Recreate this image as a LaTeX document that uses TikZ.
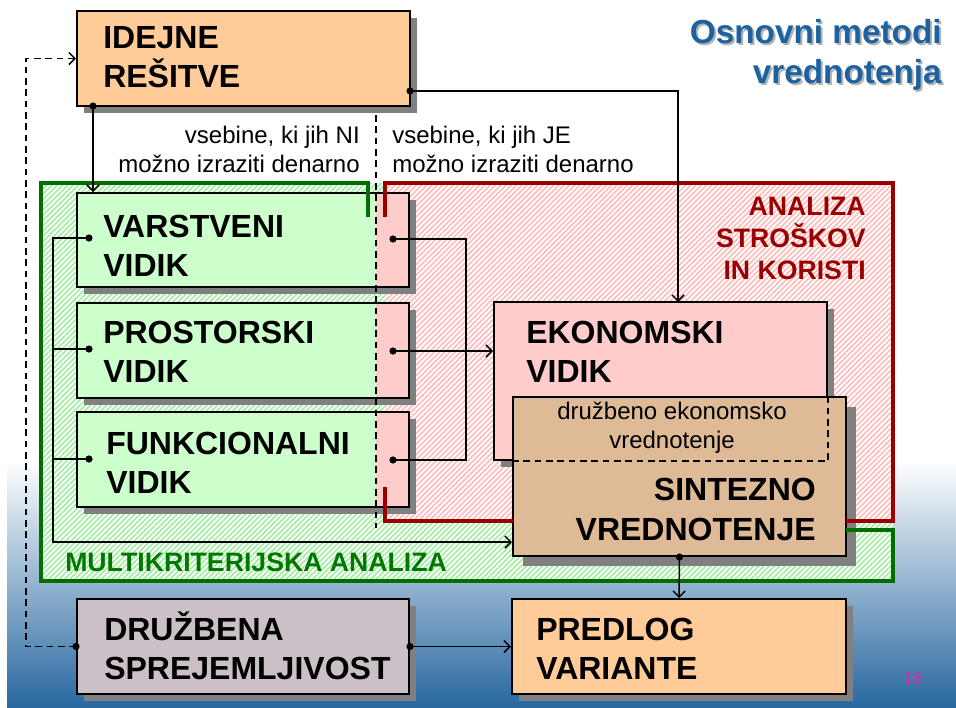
\documentclass[tikz,border=0pt]{standalone}
\usepackage{fontspec}
\setmainfont{Liberation Sans}
\usetikzlibrary{arrows.meta,patterns.meta,shadows,calc,fit}
\definecolor{peach}{RGB}{255,204,153}
\definecolor{vgreen}{RGB}{204,255,204}
\definecolor{vpink}{RGB}{255,204,204}
\definecolor{tanbox}{RGB}{222,186,150}
\definecolor{mauve}{RGB}{204,192,200}
\definecolor{shgray}{RGB}{128,128,128}
\definecolor{hgreen}{RGB}{160,238,160}
\definecolor{hpink}{RGB}{255,186,186}
\definecolor{dgreen}{RGB}{0,110,0}
\definecolor{lgreen}{RGB}{0,120,0}
\definecolor{dred}{RGB}{153,0,0}
\definecolor{titleblue}{RGB}{28,98,160}
\definecolor{bgmid}{RGB}{190,200,215}
\definecolor{bgblue}{RGB}{40,104,160}
\definecolor{pnum}{RGB}{204,51,153}
\begin{document}
\begin{tikzpicture}[x=0.75pt,y=-0.75pt,
  box/.style={draw=black, line width=1.5pt, rectangle, inner sep=0pt,
    general shadow={fill=shgray, shadow xshift=5.25pt, shadow yshift=-5.25pt}},
  bigshadowbox/.style={draw=black, line width=1.5pt, rectangle, inner sep=0pt,
    general shadow={fill=shgray, shadow xshift=7.5pt, shadow yshift=-7.5pt}},
  vidikbox/.style={box, fill=vgreen,
    path picture={\fill[vpink] ([xshift=-24.75pt]path picture bounding box.north east) rectangle (path picture bounding box.south east);}},
  boxtext/.style={font=\fontsize{24}{29.25}\selectfont\bfseries, align=left, inner sep=0pt, anchor=base west},
  smalltext/.style={font=\fontsize{18}{21.75}\selectfont, inner sep=0pt},
  conn/.style={line width=1.1pt, black},
  dconn/.style={conn, dash pattern=on 5pt off 3.5pt},
  arr/.tip={Straight Barb[length=4.5pt,width=9pt]},
  hatch/.style={pattern={Lines[angle=45,distance=2.8pt,line width=1.2pt]}},
  gborder/.style={draw=dgreen, line width=2.4pt},
  rborder/.style={draw=dred, line width=2.4pt},
  dotc/.style={fill=black}
]
\useasboundingbox (0,0) rectangle (956,707);
% background
\fill[white] (0,0) rectangle (956,707);
\shade[top color=white, middle color=bgmid, bottom color=bgblue] (7,460) rectangle (956,707);

% hatched regions
\fill[white] (41,183) rectangle (893,581);
\fill[hatch, pattern color=hgreen] (41,183) rectangle (893,581);
\fill[white] (385,183) rectangle (893,521);
\fill[hatch, pattern color=hpink] (385,183) rectangle (893,521);

% boxes
\node[box, fill=peach, fit={(77,11) (410,106)}] (ide) {};
\node[vidikbox, fit={(77,193) (409,287)}] (vars) {};
\node[vidikbox, fit={(77,303) (409,398)}] (pros) {};
\node[vidikbox, fit={(77,412) (409,507)}] (funk) {};
\node[box, fill=vpink, fit={(494,302) (827,460)}] (ekon) {};
\node[bigshadowbox, fill=tanbox, fit={(513,397) (846,556)}] (sint) {};
\node[box, fill=mauve, fit={(77,599) (409,694)}] (druz) {};
\node[box, fill=peach, fit={(512,599) (846,694)}] (pred) {};

% hidden outline of EKONOMSKI inside SINTEZNO
\draw[line width=1.5pt, dash pattern=on 5pt off 3.5pt] (sint.west |- ekon.south) -- (ekon.south east) -- (ekon.east |- sint.north);

% region borders
\draw[gborder] (368,217) -- (368,183) -- (41,183) -- (41,581) -- (893,581) -- (893,530) -- (846,530);
\draw[rborder] (385,217) -- (385,183) -- (893,183) -- (893,521) -- (846,521);
\draw[rborder] (385,487) -- (385,521) -- (513,521);

% divider
\coordinate (divtop) at (376,115);
\coordinate (divbot) at (376,528);
\draw[line width=1.1pt, dash pattern=on 5pt off 3.5pt] (divtop) -- (divbot);

% connectors
\coordinate (d1) at (93,106);
\coordinate (d2) at (410,91);
\coordinate (ekin) at (678,302);
\coordinate (dvl) at (89,238);
\coordinate (dpl) at (89,349);
\coordinate (dfl) at (89,459);
\coordinate (lft) at (53,238);
\coordinate (dvr) at (393,239);
\coordinate (dpr) at (393,351);
\coordinate (dfr) at (393,460);
\coordinate (brk) at (466,239);

\draw[conn,-arr] (d1) -- (d1 |- vars.north);
\draw[conn,-arr] (d2) -| (ekin);
\draw[dconn,-arr] (druz.west) -- ++(-50,0) |- (ide.west);
\draw[conn,-arr] (druz.east) -- (pred.west);
\draw[conn,-arr] (sint.south) -- (pred.north);
\draw[conn,-arr] (dvl) -- (lft) |- ($(sint.south west)+(0,-15)$);
\draw[conn] (dpl) -- (dpl -| lft);
\draw[conn] (dfl) -- (dfl -| lft);
\draw[conn] (dvr) -- (brk) |- (dfr);
\draw[conn,-arr] (dpr) -- (dpr -| ekon.west);

\foreach \c in {d1,d2,dvl,dpl,dfl,dvr,dpr,dfr,druz.west,druz.east,sint.south}
  \fill[dotc] (\c) circle[radius=2.7pt];

% texts (anchor base = baseline of the last line)
\node[boxtext] (tide) at (103,87) {IDEJNE\\REŠITVE};
\node[boxtext] (tvars) at (103,276) {VARSTVENI\\VIDIK};
\node[boxtext] (tpros) at (103,382) {PROSTORSKI\\VIDIK};
\node[boxtext] (tfunk) at (106,493) {FUNKCIONALNI\\VIDIK};
\node[boxtext] (tekon) at (526,382) {EKONOMSKI\\VIDIK};
\node[boxtext, align=right, anchor=base east, font=\fontsize{24}{30}\selectfont\bfseries] (tsint) at (816,540) {SINTEZNO\\VREDNOTENJE};
\node[smalltext, align=center, anchor=base] (tdev) at (672,448) {družbeno ekonomsko\\vrednotenje};
\node[boxtext] (tdruz) at (104,679) {DRUŽBENA\\SPREJEMLJIVOST};
\node[boxtext] (tpred) at (536,679) {PREDLOG\\VARIANTE};

\node[smalltext, align=right, anchor=base east] (tni) at (360,172) {vsebine, ki jih NI\\možno izraziti denarno};
\node[smalltext, align=left, anchor=base west] (tje) at (392,172) {vsebine, ki jih JE\\možno izraziti denarno};

\node[font=\fontsize{20}{24}\selectfont\bfseries, text=dred, align=right, anchor=base east, inner sep=0pt] (tacb) at (866,279) {ANALIZA\\STROŠKOV\\IN KORISTI};
\node[font=\fontsize{20}{24}\selectfont\bfseries, text=lgreen, anchor=base west, inner sep=0pt] (tmka) at (65,571) {MULTIKRITERIJSKA ANALIZA};

\node[font=\fontsize{25}{30}\selectfont\bfseries, text=shgray!60, align=right, anchor=base east, inner sep=0pt] (ttitsh) at (944,85) {Osnovni metodi\\vrednotenja};
\node[font=\fontsize{25}{30}\selectfont\bfseries, text=titleblue, align=right, anchor=base east, inner sep=0pt] (ttit) at (942,83) {Osnovni metodi\\vrednotenja};

\node[font=\fontsize{13}{15}\selectfont, text=pnum, anchor=base, inner sep=0pt] (pg) at (913,684) {16};
\end{tikzpicture}
\end{document}
